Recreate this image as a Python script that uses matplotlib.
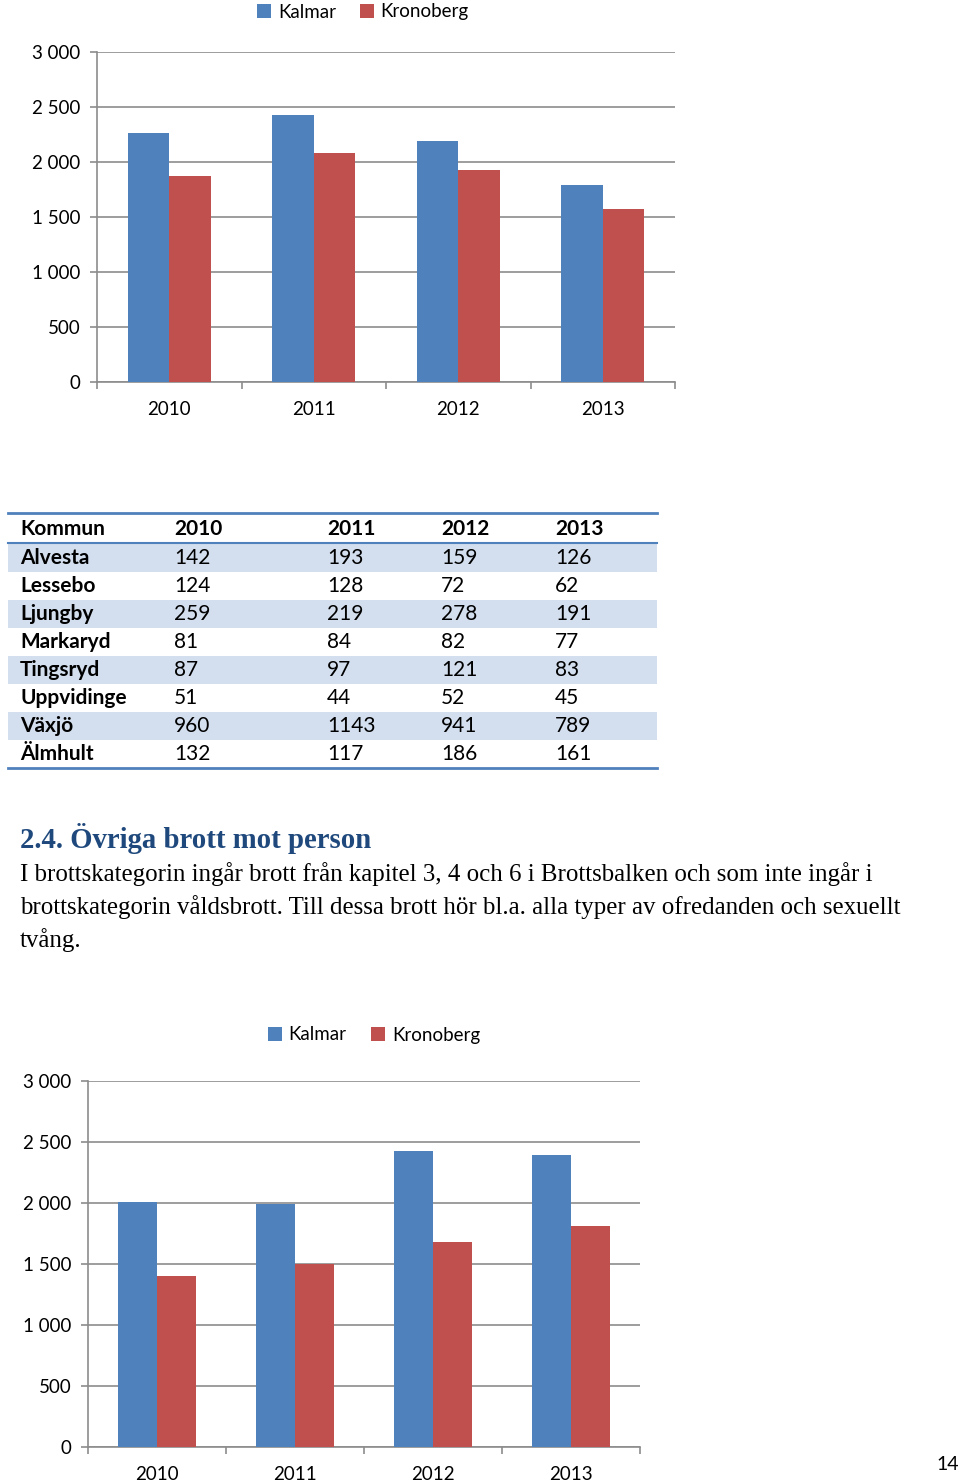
import matplotlib
matplotlib.use("Agg")
import matplotlib.pyplot as plt
import numpy as np
from matplotlib.patches import Rectangle
from matplotlib.lines import Line2D
from matplotlib.ticker import FuncFormatter, FixedLocator

# ---------------- data ----------------
years = ["2010", "2011", "2012", "2013"]
series_names = ["Kalmar", "Kronoberg"]
chart1_kalmar = [2260, 2425, 2190, 1788]
chart1_kronoberg = [1873, 2079, 1927, 1570]
chart2_kalmar = [2010, 1991, 2426, 2393]
chart2_kronoberg = [1400, 1499, 1679, 1808]
y_ticks = [0, 500, 1000, 1500, 2000, 2500, 3000]

table_header = ["Kommun", "2010", "2011", "2012", "2013"]
kommuner = ["Alvesta", "Lessebo", "Ljungby", "Markaryd", "Tingsryd",
            "Uppvidinge", "Växjö", "Älmhult"]
val_2010 = [142, 124, 259, 81, 87, 51, 960, 132]
val_2011 = [193, 128, 219, 84, 97, 44, 1143, 117]
val_2012 = [159, 72, 278, 82, 121, 52, 941, 186]
val_2013 = [126, 62, 191, 77, 83, 45, 789, 161]

heading = "2.4. Övriga brott mot person"
body_lines = [
    "I brottskategorin ingår brott från kapitel 3, 4 och 6 i Brottsbalken och som inte ingår i",
    "brottskategorin våldsbrott. Till dessa brott hör bl.a. alla typer av ofredanden och sexuellt",
    "tvång.",
]
page_number = "14"

# ---------------- style ----------------
BLUE = "#4F81BD"
RED = "#C0504D"
GRID = "#8C8C8C"
SANS = ["Lato", "DejaVu Sans"]
SERIF = ["Liberation Serif", "DejaVu Serif"]

W, H = 960, 1482
fig = plt.figure(figsize=(W / 100, H / 100), dpi=100)


def fx(px):
    return px / W


def fy(py):
    return 1 - py / H


def bar_chart(left, right, top, bottom, kal, kro, legend_center):
    ax = fig.add_axes([fx(left), fy(bottom), fx(right - left), fy(top) - fy(bottom)])
    x = np.arange(len(years))
    w = 1 / 3.5
    ax.bar(x - w / 2, kal, width=w, color=BLUE, label=series_names[0], zorder=3)
    ax.bar(x + w / 2, kro, width=w, color=RED, label=series_names[1], zorder=3)
    ax.set_xlim(-0.5, len(years) - 0.5)
    ax.set_ylim(0, 3000)
    ax.yaxis.set_major_locator(FixedLocator(y_ticks))
    ax.yaxis.set_major_formatter(FuncFormatter(lambda v, p: f"{int(v):,}".replace(",", " ")))
    ax.grid(axis="y", color=GRID, linewidth=1.2, zorder=0)
    ax.set_axisbelow(True)
    ax.set_xticks(x)
    ax.set_xticklabels(years)
    ax.xaxis.set_minor_locator(FixedLocator(np.arange(-0.5, len(years), 1.0)))
    ax.tick_params(axis="x", which="major", length=0, pad=14, labelsize=13.5)
    ax.tick_params(axis="x", which="minor", length=5, color=GRID, width=1.2)
    ax.tick_params(axis="y", length=5, color=GRID, width=1.2, pad=7, labelsize=13.5)
    for lab in ax.get_xticklabels() + ax.get_yticklabels():
        lab.set_family(SANS)
    for s in ["top", "right"]:
        ax.spines[s].set_visible(False)
    for s in ["left", "bottom"]:
        ax.spines[s].set_color(GRID)
        ax.spines[s].set_linewidth(1.2)
    ax.legend(loc="center", bbox_to_anchor=(fx(legend_center[0]), fy(legend_center[1])),
              bbox_transform=fig.transFigure, ncol=2, frameon=False,
              prop={"family": SANS, "size": 13.5}, handlelength=0.75, handleheight=0.75,
              handletextpad=0.35, columnspacing=1.3, borderpad=0)
    return ax


bar_chart(97, 675, 52, 382, chart1_kalmar, chart1_kronoberg, (363, 12))
bar_chart(88, 640, 1081, 1447, chart2_kalmar, chart2_kronoberg, (374, 1035))

# ---------------- table ----------------
tbl_left, tbl_right = 8, 657
col_x = [20, 174, 327, 441, 555]
header_y = 529
row_y0 = 558
row_h = 28
LINE = "#4F81BD"
BAND = "#D3DFEE"

for i in range(len(kommuner)):
    if i % 2 == 0:
        cy = row_y0 + i * row_h
        fig.patches.append(Rectangle((fx(tbl_left), fy(cy + row_h / 2)), fx(tbl_right - tbl_left),
                                     row_h / H, transform=fig.transFigure,
                                     facecolor=BAND, edgecolor="none", zorder=0))

for ly, lw in [(513, 2.0), (543, 1.5), (768, 2.0)]:
    fig.add_artist(Line2D([fx(tbl_left), fx(tbl_right)], [fy(ly), fy(ly)],
                          transform=fig.transFigure, color=LINE, linewidth=lw))

for j, h in enumerate(table_header):
    fig.text(fx(col_x[j]), fy(header_y), h, family=SANS, weight="bold", fontsize=15,
             ha="left", va="center")

columns = [val_2010, val_2011, val_2012, val_2013]
for i, name in enumerate(kommuner):
    cy = row_y0 + i * row_h
    fig.text(fx(col_x[0]), fy(cy), name, family=SANS, weight="bold", fontsize=15,
             ha="left", va="center")
    for j, col in enumerate(columns):
        fig.text(fx(col_x[j + 1]), fy(cy), str(col[i]), family=SANS, fontsize=15,
                 ha="left", va="center")

# ---------------- text ----------------
fig.text(fx(20), fy(839), heading, family=SERIF, weight="bold", fontsize=20.7,
         color="#1F497D", ha="left", va="center")
for k, line in enumerate(body_lines):
    fig.text(fx(20), fy(874 + 33 * k), line, family=SERIF, fontsize=17.9,
             ha="left", va="center")
fig.text(fx(959), fy(1465), page_number, family=SANS, fontsize=14, ha="right", va="center")

fig.savefig("out.png", dpi=100, facecolor="white")
